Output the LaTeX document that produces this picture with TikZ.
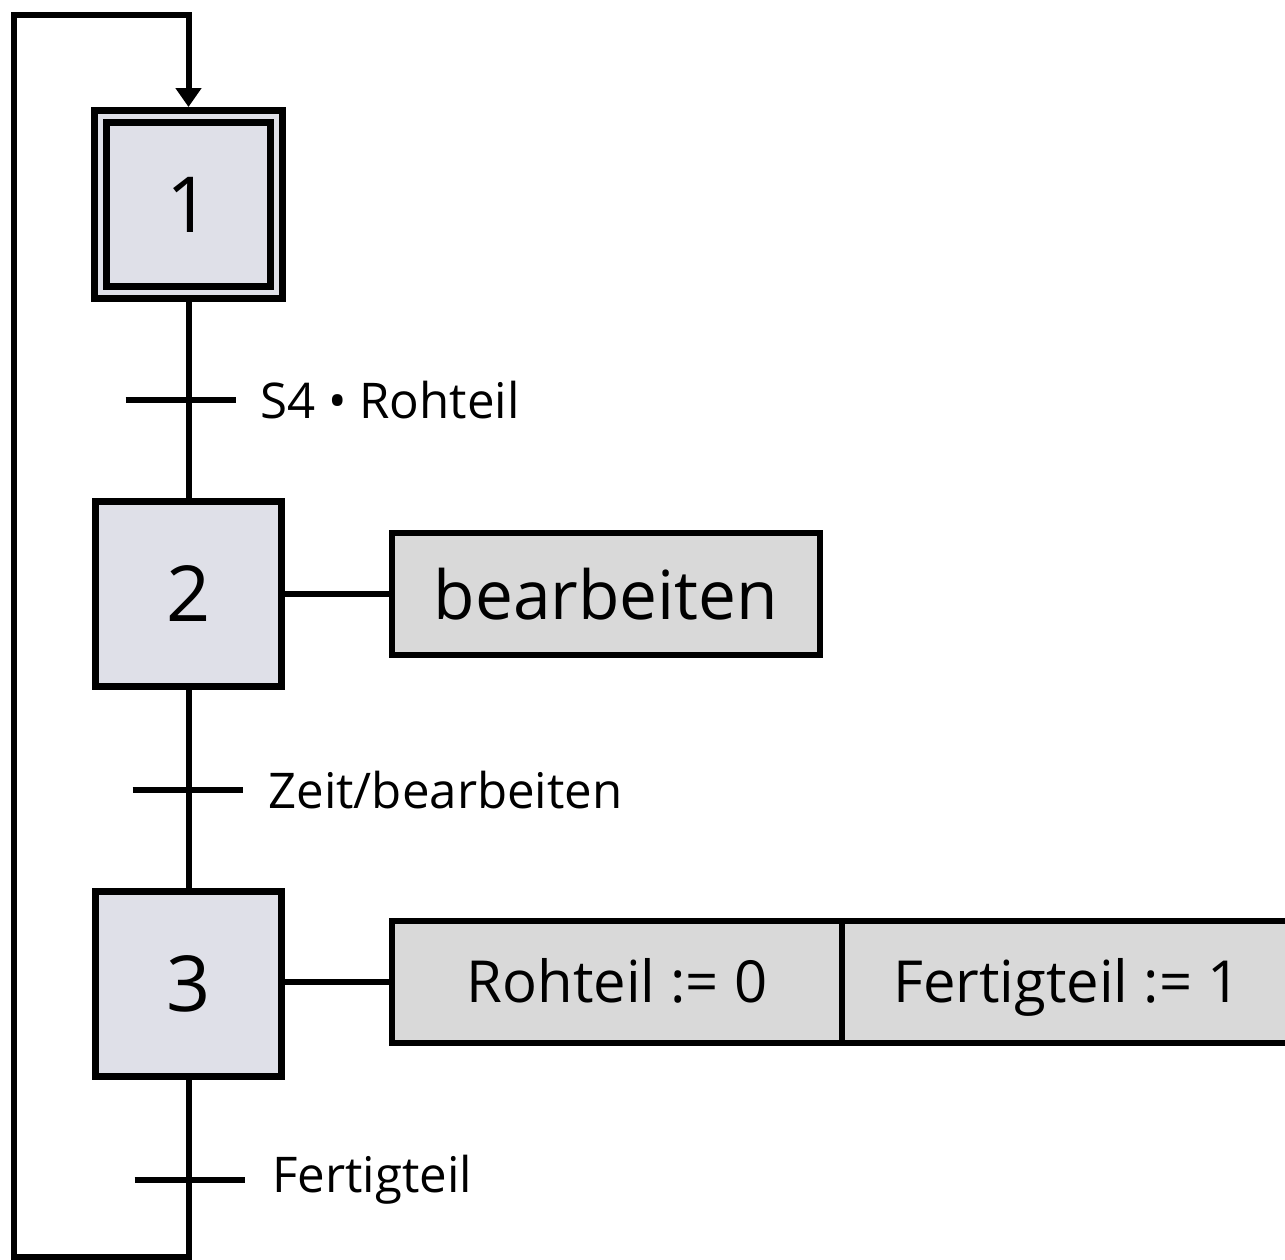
\documentclass[tikz,border=0pt]{standalone}
\usepackage{fontspec}
\setmainfont{Open Sans}
\usetikzlibrary{arrows.meta,calc}
\definecolor{stepfill}{HTML}{DFE0E8}
\definecolor{actfill}{HTML}{D9D9D9}
\tikzset{
  stepbox/.style={draw=black, fill=stepfill, line width=0.14cm, minimum width=3.72cm, minimum height=3.72cm, inner sep=0pt, font=\fontsize{44}{50}\selectfont},
  initbox/.style={draw=black, fill=stepfill, line width=0.14cm, double=stepfill, double distance=0.1cm, minimum width=3.52cm, minimum height=3.52cm, inner sep=0pt, outer sep=0.19cm, font=\fontsize{44}{50}\selectfont},
  actbox/.style={draw=black, fill=actfill, line width=0.12cm, minimum height=2.44cm, inner sep=0pt, outer sep=0pt},
  subact/.style={actbox, minimum width=9cm, font=\fontsize{33}{38}\selectfont, text height=23.5pt, text depth=0pt},
  wire/.style={line width=0.12cm},
  bar/.style={line width=0.12cm},
  cond/.style={anchor=west, inner sep=0pt, font=\fontsize{28}{32}\selectfont},
}
\begin{document}
\begin{tikzpicture}[x=0.02cm, y=-0.02cm]
\useasboundingbox (0,0) rectangle (1285,1260);
\clip (0,0) rectangle (1285,1260);
% steps
\node[initbox] (s1) at (188.5,204.5) {1};
\node[stepbox] (s2) at (188.5,594) {2};
\node[stepbox] (s3) at (188.5,984) {3};
% actions
\node[actbox, minimum width=8.56cm, font=\fontsize{38.5}{44}\selectfont] (a2) at (606,594) {bearbeiten};
\node[subact] (a3a) at (617,982) {Rohteil := 0};
\node[subact, anchor=west] (a3b) at (a3a.east) {Fertigteil := 1};
% transition coordinates
\coordinate (t1) at (188.5,400);
\coordinate (t2) at (188.5,790);
\coordinate (t3) at (188.5,1180);
\coordinate (bl) at (14,1257);
\coordinate (tl) at (14,15);
% links
\draw[wire] (s1.south) -- (s2.north);
\draw[wire] (s2.south) -- (s3.north);
\draw[wire] (s2.east) -- (s2.east -| a2.west);
\draw[wire] (s3.east |- a3a.west) -- (a3a.west);
\draw[wire, line join=miter, -{Triangle[length=0.38cm,width=0.5cm]}] (s3.south) -- (s3.south |- bl) -- (bl) -- (tl) -- (s1.north |- tl) -- (s1.north);
% transition bars
\draw[bar] ($(t1)+(-63,0)$) -- ($(t1)+(47,0)$);
\draw[bar] ($(t2)+(-56,0)$) -- ($(t2)+(54,0)$);
\draw[bar] ($(t3)+(-54,0)$) -- ($(t3)+(56,0)$);
% conditions
\node[cond] (c1) at (260,400) {S4 • Rohteil};
\node[cond] (c2) at (268,790) {Zeit/bearbeiten};
\node[cond] (c3) at (272,1180) {Fertigteil};
\end{tikzpicture}
\end{document}
